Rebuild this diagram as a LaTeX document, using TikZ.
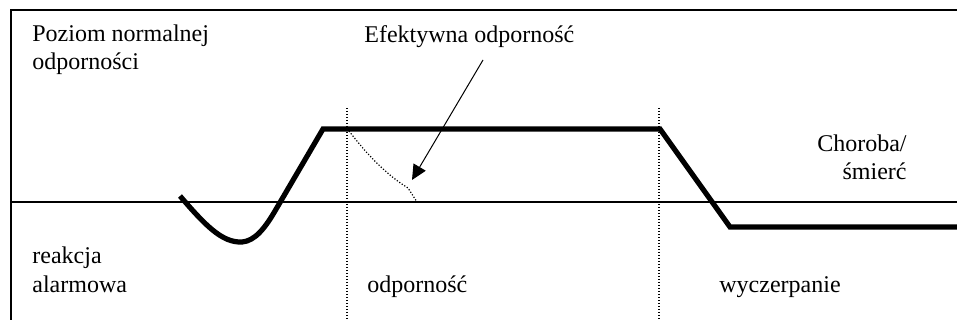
\documentclass[tikz,border=0pt]{standalone}
\usepackage{fontspec}
\setmainfont{Liberation Serif}
\usepackage{tikz}
\usetikzlibrary{arrows.meta}

\begin{document}
\begin{tikzpicture}[
                x=0.5pt, y=-0.5pt,
                every node/.style={align=left, inner sep=0pt, font=\fontsize{12}{14}\selectfont},
                frame/.style={line width=1pt},
                level line/.style={line width=1pt},
                phase curve/.style={line width=2.6pt, line join=miter},
                phase mark/.style={line width=0.6pt, dash pattern=on 0.6pt off 0.9pt},
                pointer/.style={line width=0.5pt, -{Triangle[length=7.5pt,width=7pt]}}
            ]
            \useasboundingbox (0,0) rectangle (957,320);

            % Frame and level
            \draw[frame] (957,10) -- (11,10) -- (11,320);
            \draw[level line] (11,202) -- (957,202);

            % Phase borders
            \coordinate (b1) at (347,108);
            \coordinate (b2) at (659,108);
            \draw[phase mark] (b1) -- (347,320);
            \draw[phase mark] (b2) -- (659,320);

            % Nodes
            \node[anchor=base west] (P) at (32,70) {Poziom normalnej\\odporności};
            \node[anchor=base west] (E) at (364,43) {Efektywna odporność};
            \node[anchor=base east, align=right] (C) at (907,180) {Choroba/\\śmierć};
            \node[anchor=base west] (R) at (32,292) {reakcja\\alarmowa};
            \node[anchor=base west] (O) at (367,292) {odporność};
            \node[anchor=base west] (W) at (719,292) {wyczerpanie};

            % Curves
            \draw[phase curve] (180,196) .. controls (205,225) and (222,243) .. (242,242)
                .. controls (255,241) and (265,228) .. (275,211) -- (323,129)
                -- (660,129) -- (730,227) -- (957,227);
            \draw[phase mark] (349,131) .. controls (375,165) and (395,180) .. (408,188) -- (417,202);

            % Arrow
            \coordinate (aS) at (483,60);
            \coordinate (aE) at (412,180);
            \draw[pointer] (aS) -- (aE);

            \end{tikzpicture}
\end{document}
